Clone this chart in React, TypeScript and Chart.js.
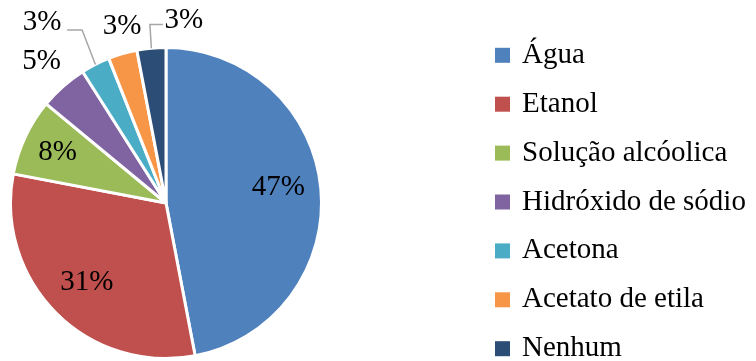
import React, { useEffect, useRef } from "react";
import { Chart, registerables } from "chart.js";

Chart.register(...registerables);

const categories = [
  "Água",
  "Etanol",
  "Solução alcóolica",
  "Hidróxido de sódio",
  "Acetona",
  "Acetato de etila",
  "Nenhum",
];
const values = [47, 31, 8, 5, 3, 3, 3];
const valueLabels = ["47%", "31%", "8%", "5%", "3%", "3%", "3%"];
const colors = ["#4F81BD", "#C0504D", "#9BBB59", "#8064A2", "#4BACC6", "#F79646", "#2C4D75"];

// label placement: radius factor and angle (deg, clockwise from top); optional leader
type Place = { rf: number; ang?: number; leader?: { elbow: [number, number]; end: [number, number] } };
const placements: Place[] = [
  { rf: 0.73, ang: 82 },
  { rf: 0.72 },
  { rf: 0.77 },
  { rf: 1.21 },
  { rf: 1.41, ang: 325.6, leader: { elbow: [40, 8], end: [25, 8] } },
  { rf: 1.17, ang: 346 },
  { rf: 1.18, ang: 5.6, leader: { elbow: [-34, 4], end: [-21, 4] } },
];

const FONT = '29px "Liberation Serif", "Times New Roman", serif';

const labelPlugin = {
  id: "pieLabels",
  afterDatasetsDraw(chart: any) {
    const ctx = chart.ctx;
    const meta = chart.getDatasetMeta(0);
    ctx.save();
    ctx.font = FONT;
    ctx.textAlign = "center";
    ctx.textBaseline = "middle";
    meta.data.forEach((arc: any, i: number) => {
      const { x, y, startAngle, endAngle, outerRadius } = arc.getProps(
        ["x", "y", "startAngle", "endAngle", "outerRadius"],
        true
      );
      const mid = (startAngle + endAngle) / 2;
      const p = placements[i];
      const a = p.ang !== undefined ? (p.ang * Math.PI) / 180 - Math.PI / 2 : mid;
      const lx = x + Math.cos(a) * outerRadius * p.rf;
      const ly = y + Math.sin(a) * outerRadius * p.rf;
      if (p.leader) {
        const sx = x + Math.cos(mid) * outerRadius;
        const sy = y + Math.sin(mid) * outerRadius;
        ctx.strokeStyle = "#A6A6A6";
        ctx.lineWidth = 1.5;
        ctx.beginPath();
        ctx.moveTo(sx, sy);
        ctx.lineTo(lx + p.leader.elbow[0], ly + p.leader.elbow[1]);
        ctx.lineTo(lx + p.leader.end[0], ly + p.leader.end[1]);
        ctx.stroke();
      }
      ctx.fillStyle = "#000000";
      ctx.fillText(valueLabels[i], lx, ly);
    });
    ctx.restore();
  },
};

const legendPlugin = {
  id: "sideLegend",
  afterDraw(chart: any) {
    const ctx = chart.ctx;
    const ds = chart.data.datasets[0];
    ctx.save();
    ctx.font = FONT;
    ctx.textAlign = "left";
    ctx.textBaseline = "alphabetic";
    const x0 = 495;
    const y0 = 62.8;
    const step = 48.9;
    chart.data.labels.forEach((lab: string, i: number) => {
      const base = y0 + i * step;
      ctx.fillStyle = ds.backgroundColor[i];
      ctx.fillRect(x0, base - 15, 15, 15);
      ctx.fillStyle = "#000000";
      ctx.fillText(lab, x0 + 27, base);
    });
    ctx.restore();
  },
};

export default function App() {
  const ref = useRef<HTMLCanvasElement>(null);
  useEffect(() => {
    if (!ref.current) return;
    const chart = new Chart(ref.current, {
      type: "pie",
      data: {
        labels: categories,
        datasets: [
          {
            data: values,
            backgroundColor: colors,
            borderColor: "#FFFFFF",
            borderWidth: 3,
          },
        ],
      },
      options: {
        animation: false,
        responsive: false,
        layout: { padding: { left: 9, top: 46, right: 433, bottom: 1 } },
        plugins: {
          legend: { display: false },
          tooltip: { enabled: false },
        },
      },
      plugins: [labelPlugin, legendPlugin],
    });
    return () => chart.destroy();
  }, []);
  return (
    <div style={{ position: "fixed", left: 0, top: 0, width: 756, height: 361, background: "#fff" }}>
      <canvas ref={ref} width={756} height={361} style={{ width: 756, height: 361 }} />
    </div>
  );
}
